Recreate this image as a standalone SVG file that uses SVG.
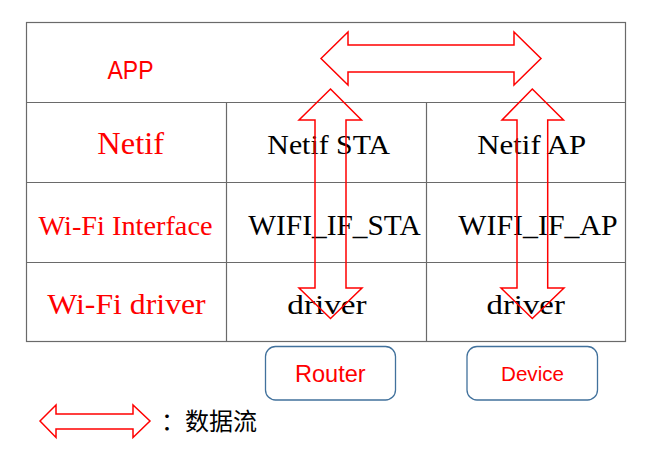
<svg xmlns="http://www.w3.org/2000/svg" width="662" height="461" viewBox="0 0 662 461">
<style>
.grid{fill:none;stroke:#6a6a6a;stroke-width:1.2}
.lbl{font-family:"Liberation Sans",Arial,sans-serif;fill:#ff0000;text-anchor:middle}
.red{font-family:"Liberation Serif","Times New Roman",serif;fill:#ff0000;text-anchor:middle}
.blk{font-family:"Liberation Serif","Times New Roman",serif;fill:#000;text-anchor:middle}
.flow{fill:none;stroke:#ff0000;stroke-width:1.5;stroke-linejoin:miter}
.box{fill:#fff;stroke:#41719c;stroke-width:1.3}
</style>
<rect width="662" height="461" fill="#fff"/>
<g id="table">
<rect class="grid" x="26.5" y="22.5" width="599" height="319"/>
<line class="grid" x1="26.5" y1="102.5" x2="625.5" y2="102.5"/>
<line class="grid" x1="26.5" y1="182.5" x2="625.5" y2="182.5"/>
<line class="grid" x1="26.5" y1="262.5" x2="625.5" y2="262.5"/>
<line class="grid" x1="226.5" y1="102.5" x2="226.5" y2="341.5"/>
<line class="grid" x1="426.5" y1="102.5" x2="426.5" y2="341.5"/>
</g>
<g id="app"><text class="lbl" x="130.5" y="78.5" font-size="25.5" textLength="46" lengthAdjust="spacingAndGlyphs">APP</text></g>
<g id="netif"><text class="red" x="130.7" y="154" font-size="31" textLength="66.7" lengthAdjust="spacingAndGlyphs">Netif</text></g>
<g id="wifi-interface"><text class="red" x="125.5" y="235" font-size="27.7" textLength="174" lengthAdjust="spacingAndGlyphs">Wi-Fi Interface</text></g>
<g id="wifi-driver"><text class="red" x="126.5" y="313.5" font-size="28.7" textLength="158.4" lengthAdjust="spacingAndGlyphs">Wi-Fi driver</text></g>
<g id="netif-sta"><text class="blk" x="328.7" y="153.5" font-size="27.7" textLength="122.7" lengthAdjust="spacingAndGlyphs">Netif STA</text></g>
<g id="netif-ap"><text class="blk" x="531.7" y="153.5" font-size="27.7" textLength="108.7" lengthAdjust="spacingAndGlyphs">Netif AP</text></g>
<g id="wifi-if-sta"><text class="blk" x="334.5" y="234.5" font-size="29" textLength="172.4" lengthAdjust="spacingAndGlyphs">WIFI_IF_STA</text></g>
<g id="wifi-if-ap"><text class="blk" x="538" y="234.5" font-size="29" textLength="159.4" lengthAdjust="spacingAndGlyphs">WIFI_IF_AP</text></g>
<g id="driver-sta"><text class="blk" x="327" y="314" font-size="26.5" textLength="79.4" lengthAdjust="spacingAndGlyphs">driver</text></g>
<g id="driver-ap"><text class="blk" x="525.7" y="314" font-size="26.5" textLength="78.3" lengthAdjust="spacingAndGlyphs">driver</text></g>
<g id="router">
<rect class="box" x="265.5" y="346.5" width="130" height="53.5" rx="10"/>
<text class="lbl" x="330.3" y="381.7" font-size="23" textLength="70.7" lengthAdjust="spacingAndGlyphs">Router</text>
</g>
<g id="device">
<rect class="box" x="467" y="346.5" width="130.5" height="53.5" rx="10"/>
<text class="lbl" x="532.5" y="381" font-size="20.5" textLength="63" lengthAdjust="spacingAndGlyphs">Device</text>
</g>
<g id="connectors">
<polygon class="flow" points="321,58.5 348,32 348,45 514,45 514,32 541,58.5 514,85 514,72 348,72 348,85"/>
<polygon class="flow" points="330.5,89 361.5,120 346,120 346,288 362,288 330.5,318.5 299,288 315,288 315,120 299,120"/>
<polygon class="flow" points="532.3,89 563.5,120 547.7,120 547.7,288 564,288 532.3,318.5 501,288 517,288 517,120 502,120"/>
</g>
<g id="legend">
<polygon class="flow" points="40,421 56,405 56,414 133,414 133,405 150,421 133,437.5 133,429 56,429 56,437.5" stroke-width="2" stroke="#ff3030"/>
<text x="161" y="429.5" font-family="'Noto Sans CJK SC','Noto Sans CJK JP',sans-serif" font-size="24" fill="#000">：数据流</text>
</g>
</svg>
